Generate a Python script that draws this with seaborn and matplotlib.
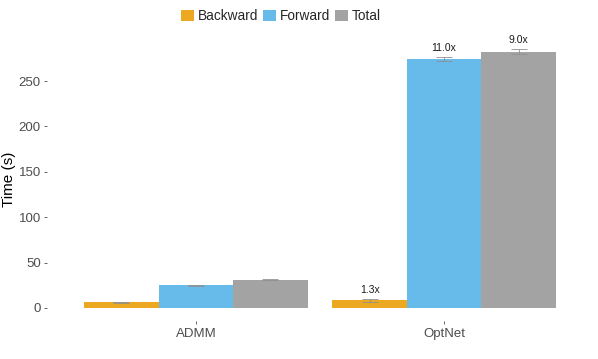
import pandas as pd
import seaborn as sns
import matplotlib.pyplot as plt

# data
methods = ["ADMM", "OptNet"]
passes = ["Backward", "Forward", "Total"]
admm_times = [6.5, 24.8, 31.3]
optnet_times = [8.3, 274.0, 282.5]
admm_err = [0.5, 0.6, 0.6]
optnet_err = [1.3, 2.2, 2.4]
speedups = ["", "", "", "1.3x", "11.0x", "9.0x"]

colors = ["#EBA820", "#66BBEA", "#A3A3A3"]

df = pd.DataFrame({
    "method": [m for m in methods for _ in passes],
    "pass": passes * 2,
    "time": admm_times + optnet_times,
    "err": admm_err + optnet_err,
    "label": speedups,
})

sns.set_style("white")
plt.rcParams["font.family"] = ["Liberation Sans", "DejaVu Sans"]

fig = plt.figure(figsize=(5.98, 3.59), dpi=100)
ax = fig.add_axes([0.0786, 0.1067, 0.913, 0.789])

sns.barplot(data=df, x="method", y="time", hue="pass", hue_order=passes,
            order=methods, palette=colors, width=0.9, errorbar=None,
            saturation=1, linewidth=0, ax=ax)

# error bars + labels on top of the bars seaborn drew
for bar_group, p in zip(ax.containers, passes):
    sub = df[df["pass"] == p].set_index("method").loc[methods]
    for rect, (_, row) in zip(bar_group, sub.iterrows()):
        cx = rect.get_x() + rect.get_width() / 2
        ax.errorbar(cx, row["time"], yerr=row["err"], fmt="none",
                    ecolor="#8f8f8f", elinewidth=0.6, capsize=6,
                    capthick=0.6)
        if row["label"]:
            ax.annotate(row["label"], (cx, row["time"] + row["err"]),
                        xytext=(0, 3), textcoords="offset points",
                        ha="center", va="bottom", fontsize=7.5,
                        color="#1a1a1a")

ax.set_xlim(-0.6, 1.6)
ax.set_ylim(-14, 298)
ax.set_yticks([0, 50, 100, 150, 200, 250])
ax.set_xlabel("")
ax.set_ylabel("Time (s)", fontsize=11, color="black", labelpad=2)
ax.tick_params(axis="both", labelsize=9.5, colors="#4D4D4D", length=2.5,
               width=0.6, pad=2, left=True, bottom=True)
ax.tick_params(axis="x", pad=3)
sns.despine(ax=ax, left=True, bottom=True)

ax.legend(loc="center", bbox_to_anchor=(0.47, 0.955),
          bbox_transform=fig.transFigure, ncol=3, frameon=False,
          fontsize=9.8, handlelength=0.9, handleheight=0.9,
          handletextpad=0.3, columnspacing=0.4, borderpad=0)

fig.savefig("out.png", dpi=100)
